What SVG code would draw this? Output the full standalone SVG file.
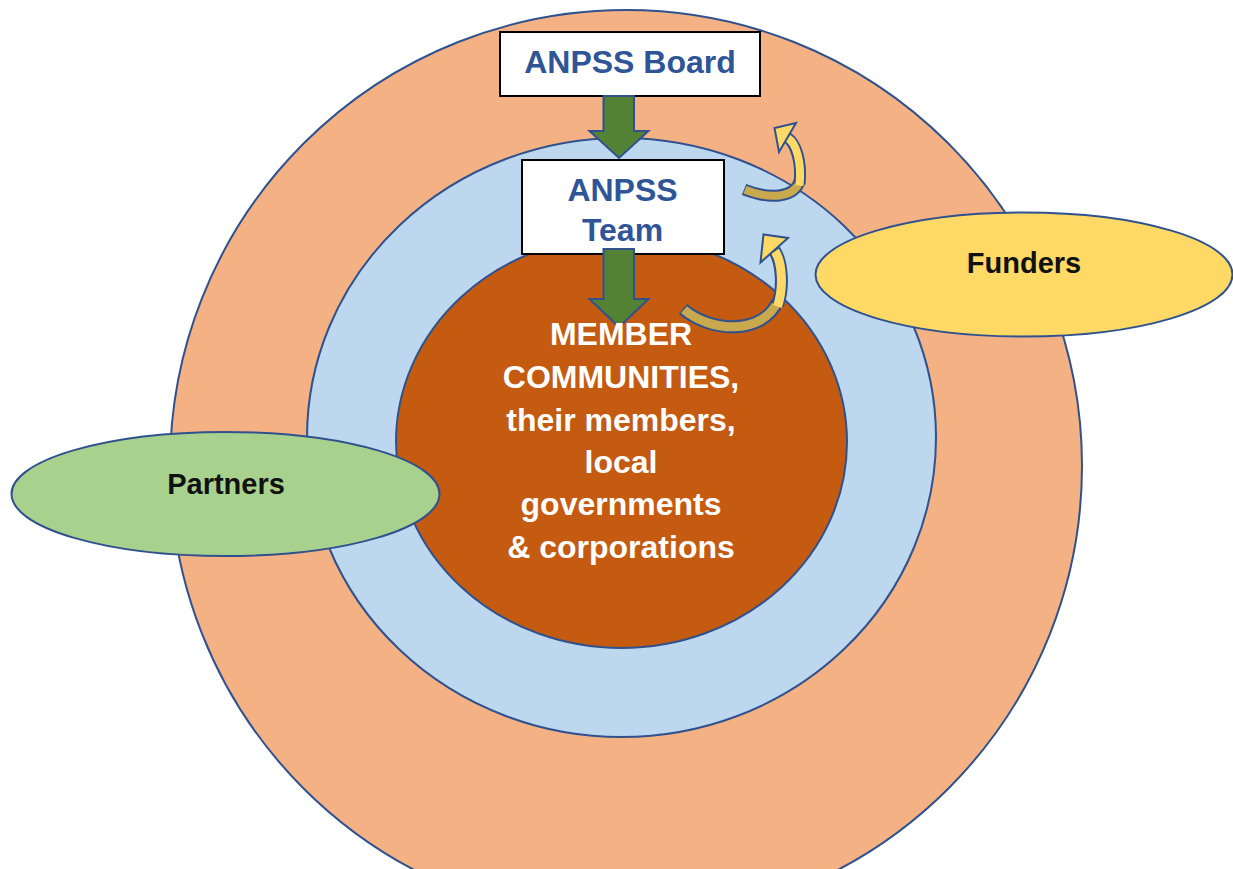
<svg xmlns="http://www.w3.org/2000/svg" width="1233" height="869" viewBox="0 0 1233 869">
  <style>
    .ring { stroke: #2F528F; stroke-width: 2; }
    .box { fill: #FFFFFF; stroke: #000000; stroke-width: 2; }
    .blue-label { font-family: "Liberation Sans", Arial, sans-serif; font-weight: bold; font-size: 32px; fill: #2F5597; text-anchor: middle; }
    .white-label { font-family: "Liberation Sans", Arial, sans-serif; font-weight: bold; font-size: 32px; fill: #FFFFFF; text-anchor: middle; }
    .dark-label { font-family: "Liberation Sans", Arial, sans-serif; font-weight: bold; font-size: 29px; fill: #111111; text-anchor: middle; }
    .down-arrow { fill: #548235; stroke: #2F528F; stroke-width: 2; stroke-linejoin: miter; }
    .ribbon-edge { fill: none; stroke: #2F528F; stroke-linecap: butt; }
    .ribbon-back { fill: none; stroke: #C9A94D; stroke-linecap: butt; }
    .ribbon-front { fill: none; stroke: #FFD966; stroke-linecap: butt; }
    .ribbon-head { fill: #FFD966; stroke: #2F528F; stroke-width: 2; stroke-linejoin: miter; }
  </style>

  <rect width="1233" height="869" fill="#FFFFFF"/>

  <!-- concentric rings -->
  <g id="outer-ring">
    <circle class="ring" cx="626" cy="466" r="456" fill="#F4B183"/>
  </g>
  <g id="middle-ring">
    <ellipse class="ring" cx="621.5" cy="437.5" rx="314.5" ry="299.5" fill="#BDD7EE"/>
  </g>
  <g id="member-communities">
    <ellipse class="ring" cx="621.5" cy="442" rx="225.5" ry="206" fill="#C55A11"/>
  </g>

  <!-- outside groups -->
  <g id="funders">
    <ellipse class="ring" cx="1024" cy="274.5" rx="208.5" ry="62" fill="#FFD966"/>
    <text class="dark-label" x="1024" y="273">Funders</text>
  </g>
  <g id="partners">
    <ellipse class="ring" cx="225.5" cy="494" rx="214" ry="62" fill="#A9D18E"/>
    <text class="dark-label" x="226" y="494">Partners</text>
  </g>

  <!-- boxes -->
  <g id="anpss-board">
    <rect class="box" x="500" y="32" width="260" height="64"/>
    <text class="blue-label" x="630" y="73">ANPSS Board</text>
  </g>
  <g id="anpss-team">
    <rect class="box" x="522" y="160" width="202" height="94"/>
    <text class="blue-label" x="622.5" y="201">ANPSS</text>
    <text class="blue-label" x="622.5" y="241">Team</text>
  </g>

  <!-- connectors -->
  <g id="connectors">
    <!-- board to team -->
    <polygon class="down-arrow" points="603.5,96 634,96 634,131 648.5,131 619,158 589.5,131 603.5,131"/>
    <!-- team to members -->
    <polygon class="down-arrow" points="603.5,249 634,249 634,299 648.5,299 619,327 589.5,299 603.5,299"/>

    <!-- curved arrow: middle ring out to the outer ring -->
    <path class="ribbon-edge" stroke-width="12" d="M 744 189.5 C 768 199, 795 199, 800 180"/>
    <path class="ribbon-back" stroke-width="8" d="M 745 189.8 C 768 199, 795 199, 800 180"/>
    <path class="ribbon-edge" stroke-width="12" d="M 799.5 184 C 802 162, 796 143, 787 137.5"/>
    <path class="ribbon-front" stroke-width="8" d="M 799.5 185.5 C 802 162, 796 143, 788 138.2"/>
    <polygon class="ribbon-head" points="779,152 796,123 774.5,128"/>

    <!-- curved arrow: members out to the middle ring -->
    <path class="ribbon-edge" stroke-width="13" d="M 683 309 C 710 332, 762 336, 778 301"/>
    <path class="ribbon-back" stroke-width="9" d="M 684 309.6 C 710 332, 762 336, 778 301"/>
    <path class="ribbon-edge" stroke-width="13" d="M 777.5 305 C 784 287, 782 262, 774.2 250"/>
    <path class="ribbon-front" stroke-width="9" d="M 777.5 306.5 C 784 287, 782 262, 775 251.2"/>
    <polygon class="ribbon-head" points="760.5,262.5 788,238 763.5,234.5"/>
  </g>

  <!-- member communities label -->
  <g id="member-label">
    <text class="white-label" x="621" y="345">MEMBER</text>
    <text class="white-label" x="621" y="388">COMMUNITIES,</text>
    <text class="white-label" x="621" y="431">their members,</text>
    <text class="white-label" x="621" y="473">local</text>
    <text class="white-label" x="621" y="515">governments</text>
    <text class="white-label" x="621" y="558">&amp; corporations</text>
  </g>
</svg>
